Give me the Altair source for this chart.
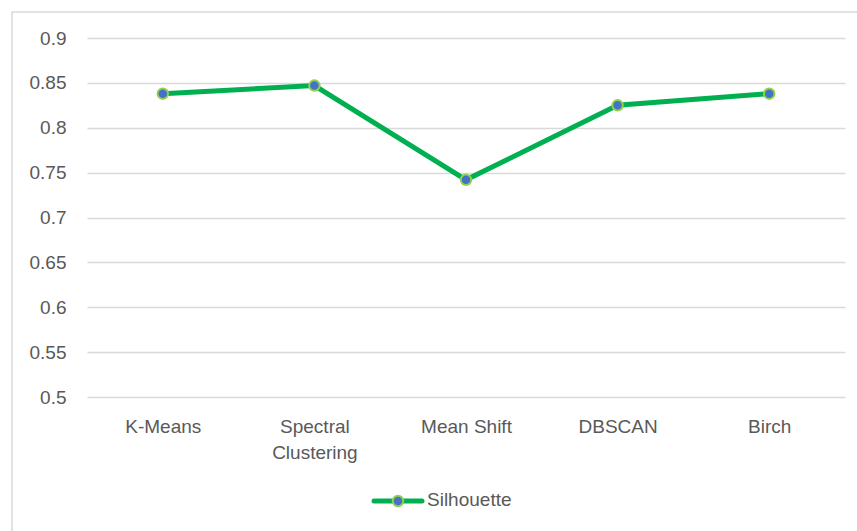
import altair as alt
import pandas as pd

categories = ["K-Means", "Spectral Clustering", "Mean Shift", "DBSCAN", "Birch"]
silhouette = [0.838, 0.847, 0.742, 0.825, 0.838]
y_ticks = [0.5, 0.55, 0.6, 0.65, 0.7, 0.75, 0.8, 0.85, 0.9]
series_name = "Silhouette"

df = pd.DataFrame({"Algorithm": categories, "Score": silhouette})

FONT = "Liberation Sans, Arial"
GREEN = "#00B050"
BLUE = "#4472C4"
LIGHTGREEN = "#92D050"
GRAY = "#595959"

x_enc = alt.X("Algorithm:N", sort=categories, title=None,
              scale=alt.Scale(paddingInner=0, paddingOuter=0),
              axis=alt.Axis(labelAngle=0, domain=False, ticks=False, grid=False,
                            labelPadding=20, labelFontSize=19, labelColor=GRAY,
                            labelFont=FONT, labelLineHeight=26, labelBaseline="top",
                            labelExpr="datum.label == 'Spectral Clustering' ? ['Spectral', 'Clustering'] : datum.label"))
y_enc = alt.Y("Score:Q", title=None,
              scale=alt.Scale(domain=[0.5, 0.9], nice=False, zero=False),
              axis=alt.Axis(values=y_ticks, format="~g", domain=False, ticks=False,
                            labelPadding=21, labelFontSize=19, labelColor=GRAY,
                            labelFont=FONT, gridColor="#d9d9d9", gridWidth=1.3))

base = alt.Chart(df)
line = base.mark_line(color=GREEN, strokeWidth=5).encode(x=x_enc, y=y_enc)
pts = base.mark_point(filled=True, fill=BLUE, stroke=LIGHTGREEN, strokeWidth=2,
                      size=110, opacity=1, shape="circle").encode(x=x_enc, y=y_enc)

leg_df = pd.DataFrame({"name": [series_name]})
leg_line = alt.Chart(leg_df).mark_rule(color=GREEN, strokeWidth=5, strokeCap="round").encode(
    x=alt.value(287), x2=alt.value(335), y=alt.value(463))
leg_pt = alt.Chart(leg_df).mark_point(filled=True, fill=BLUE, stroke=LIGHTGREEN, strokeWidth=2,
                                      size=110, opacity=1, shape="circle").encode(
    x=alt.value(311), y=alt.value(463))
leg_txt = alt.Chart(leg_df).mark_text(align="left", baseline="middle", fontSize=19,
                                      color=GRAY, font=FONT).encode(
    x=alt.value(340), y=alt.value(462), text="name:N")
frame = alt.Chart(leg_df).mark_rect(fill=None, stroke="#d9d9d9", strokeWidth=1.5).encode(
    x=alt.value(-75), x2=alt.value(800), y=alt.value(-26), y2=alt.value(560))

chart = alt.layer(frame, line, pts, leg_line, leg_pt, leg_txt).properties(
    width=758, height=359,
    autosize=alt.AutoSizeParams(type="none"),
    padding={"left": 87, "top": 38, "right": 12, "bottom": 134},
    background="white",
).configure_view(stroke=None)

chart.save("out.html", embed_options={"renderer": "svg", "actions": False})
